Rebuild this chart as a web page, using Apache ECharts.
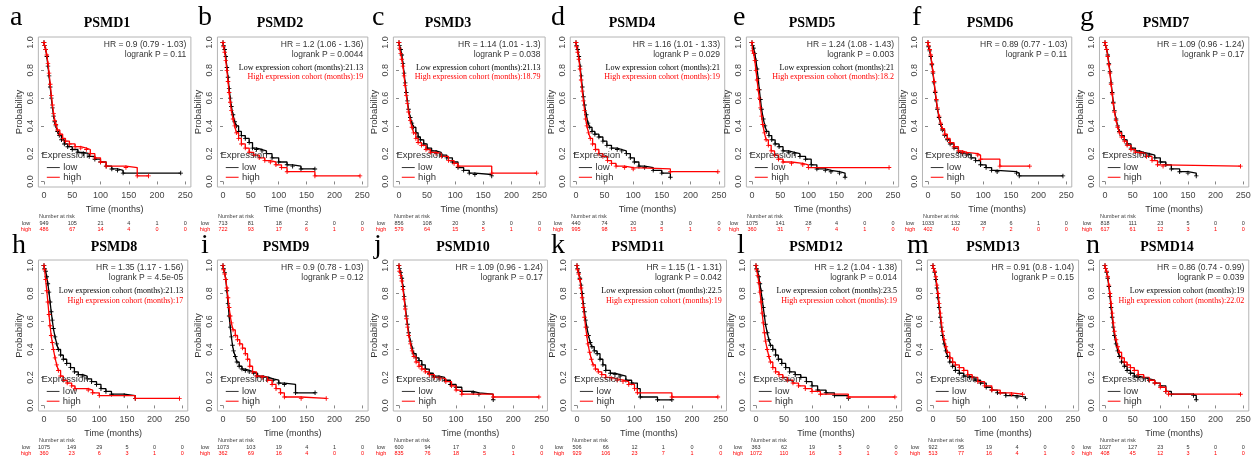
<!DOCTYPE html>
<html><head><meta charset="utf-8">
<script src="https://cdn.jsdelivr.net/npm/echarts@6/dist/echarts.min.js"></script>
<style>html,body{margin:0;padding:0;background:#fff}#c{width:1257px;height:457px}</style>
</head><body><div id="c"></div>
<script>
// ---------------- DATA ----------------
const genes = ['PSMD1','PSMD2','PSMD3','PSMD4','PSMD5','PSMD6','PSMD7','PSMD8','PSMD9','PSMD10','PSMD11','PSMD12','PSMD13','PSMD14'];
const letters = ['a','b','c','d','e','f','g','h','i','j','k','l','m','n'];
const hrLabels = ['HR = 0.9 (0.79 - 1.03)','HR = 1.2 (1.06 - 1.36)','HR = 1.14 (1.01 - 1.3)','HR = 1.16 (1.01 - 1.33)','HR = 1.24 (1.08 - 1.43)','HR = 0.89 (0.77 - 1.03)','HR = 1.09 (0.96 - 1.24)','HR = 1.35 (1.17 - 1.56)','HR = 0.9 (0.78 - 1.03)','HR = 1.09 (0.96 - 1.24)','HR = 1.15 (1 - 1.31)','HR = 1.2 (1.04 - 1.38)','HR = 0.91 (0.8 - 1.04)','HR = 0.86 (0.74 - 0.99)'];
const logrankP = ['0.11','0.0044','0.038','0.029','0.003','0.11','0.17','4.5e-05','0.12','0.17','0.042','0.014','0.15','0.039'];
const lowCohortMonths = [null,'21.13','21.13','21','21',null,null,'21.13',null,null,'22.5','23.5',null,'19'];
const highCohortMonths = [null,'19','18.79','19','18.2',null,null,'17',null,null,'19','19',null,'22.02'];
const xTickValues = [0,50,100,150,200,250];
const yTickValues = [0,0.2,0.4,0.6,0.8,1.0];
const riskTimes = [0,50,100,150,200,250];
const riskLow = [[949,105,21,4,1,0],[713,81,18,2,0,0],[856,108,20,3,0,0],[440,74,20,3,0,0],[1075,141,28,4,0,0],[1033,132,28,6,1,0],[818,111,23,5,0,0],[1075,149,29,5,0,0],[1073,103,19,4,1,0],[600,94,17,3,0,0],[506,66,12,1,0,0],[363,62,19,5,0,0],[922,95,19,4,0,0],[1027,127,23,5,0,0]];
const riskHigh = [[486,67,14,4,0,0],[722,93,17,6,1,0],[579,64,15,5,1,0],[995,98,15,5,1,0],[360,31,7,4,1,0],[402,40,7,2,0,0],[617,61,12,3,1,0],[360,23,6,3,1,0],[362,69,16,4,0,0],[835,76,18,5,1,0],[929,106,23,7,1,0],[1072,110,16,3,1,0],[513,77,16,4,1,0],[408,45,12,3,1,0]];

const low_PSMD1 = [[0,1],[1,0.98],[3,0.95],[5,0.9],[7,0.83],[9,0.76],[11,0.68],[13,0.6],[15,0.53],[17,0.47],[19,0.43],[21,0.4],[24,0.36],[27,0.33],[31,0.3],[36,0.27],[42,0.25],[50,0.23],[60,0.21],[70,0.2],[80,0.18],[90,0.16],[100,0.14],[110,0.11],[120,0.09],[130,0.08],[140,0.06],[242,0.06]];
const high_PSMD1 = [[0,1],[1,0.98],[3,0.95],[5,0.91],[7,0.85],[9,0.78],[11,0.7],[13,0.62],[15,0.55],[17,0.49],[19,0.44],[21,0.41],[24,0.37],[28,0.34],[33,0.31],[38,0.29],[45,0.27],[55,0.25],[65,0.24],[75,0.23],[82,0.2],[90,0.17],[100,0.14],[110,0.11],[145,0.1],[165,0.04],[185,0.04]];
const low_PSMD2 = [[0,1],[1,0.98],[3,0.95],[5,0.9],[7,0.82],[9,0.75],[11,0.67],[13,0.6],[15,0.54],[18,0.48],[21,0.43],[24,0.4],[28,0.36],[33,0.33],[40,0.31],[47,0.28],[53,0.24],[60,0.23],[70,0.22],[78,0.2],[88,0.17],[100,0.14],[115,0.12],[125,0.11],[140,0.09],[165,0.09]];
const high_PSMD2 = [[0,1],[1,0.97],[3,0.93],[5,0.87],[7,0.8],[9,0.72],[11,0.64],[13,0.57],[15,0.51],[18,0.45],[21,0.4],[24,0.35],[28,0.31],[33,0.27],[40,0.24],[47,0.21],[55,0.19],[65,0.17],[75,0.15],[85,0.14],[95,0.12],[105,0.1],[115,0.07],[165,0.04],[246,0.04]];
const low_PSMD3 = [[0,1],[1,0.98],[3,0.95],[5,0.91],[7,0.85],[9,0.78],[11,0.71],[13,0.64],[15,0.58],[17,0.52],[20,0.46],[23,0.42],[26,0.39],[30,0.35],[34,0.32],[38,0.3],[44,0.27],[50,0.24],[58,0.22],[66,0.21],[75,0.19],[85,0.17],[95,0.14],[105,0.1],[115,0.08],[125,0.06],[135,0.05],[165,0.04]];
const high_PSMD3 = [[0,1],[1,0.96],[3,0.92],[5,0.88],[7,0.83],[9,0.76],[11,0.69],[13,0.62],[15,0.56],[17,0.5],[20,0.44],[23,0.39],[26,0.35],[30,0.31],[34,0.28],[40,0.26],[48,0.23],[56,0.21],[66,0.2],[76,0.18],[88,0.15],[98,0.13],[105,0.11],[165,0.06],[245,0.06]];
const low_PSMD4 = [[0,1],[1,0.98],[3,0.95],[5,0.9],[7,0.83],[9,0.76],[11,0.68],[13,0.61],[15,0.55],[18,0.48],[21,0.42],[24,0.39],[28,0.36],[33,0.34],[40,0.32],[47,0.29],[54,0.26],[62,0.24],[72,0.23],[80,0.22],[88,0.2],[95,0.17],[102,0.14],[110,0.11],[120,0.1],[135,0.08],[150,0.06],[165,0.03]];
const high_PSMD4 = [[0,1],[1,0.97],[3,0.93],[5,0.88],[7,0.81],[9,0.73],[11,0.65],[13,0.58],[15,0.51],[17,0.45],[19,0.4],[22,0.35],[25,0.31],[29,0.27],[34,0.23],[40,0.2],[47,0.18],[55,0.15],[62,0.13],[70,0.11],[85,0.1],[100,0.09],[165,0.07],[248,0.07]];
const low_PSMD5 = [[0,1],[1,0.98],[3,0.96],[5,0.92],[7,0.87],[9,0.81],[11,0.74],[13,0.66],[15,0.59],[17,0.52],[20,0.45],[23,0.4],[26,0.36],[30,0.33],[35,0.3],[41,0.27],[48,0.25],[55,0.22],[65,0.21],[75,0.2],[85,0.18],[95,0.16],[105,0.12],[115,0.09],[130,0.08],[140,0.07],[155,0.06],[165,0.03]];
const high_PSMD5 = [[0,1],[1,0.94],[3,0.92],[5,0.87],[7,0.8],[9,0.73],[11,0.66],[13,0.6],[15,0.53],[17,0.47],[19,0.41],[22,0.35],[25,0.3],[29,0.26],[34,0.22],[40,0.19],[47,0.16],[55,0.14],[70,0.13],[90,0.12],[100,0.1],[243,0.1]];
const low_PSMD6 = [[0,1],[1,0.97],[3,0.94],[5,0.9],[7,0.84],[9,0.78],[11,0.71],[13,0.64],[15,0.58],[17,0.52],[20,0.46],[23,0.41],[26,0.37],[30,0.33],[35,0.3],[40,0.27],[47,0.24],[55,0.21],[62,0.2],[70,0.19],[78,0.17],[86,0.15],[95,0.12],[105,0.1],[115,0.08],[125,0.07],[160,0.06],[165,0.04],[244,0.04]];
const high_PSMD6 = [[0,1],[1,0.98],[3,0.95],[5,0.91],[7,0.85],[9,0.79],[11,0.72],[13,0.65],[15,0.59],[17,0.53],[20,0.47],[23,0.42],[26,0.38],[30,0.34],[35,0.31],[40,0.28],[47,0.25],[55,0.22],[62,0.21],[70,0.2],[90,0.19],[95,0.16],[130,0.11],[184,0.11]];
const low_PSMD7 = [[0,1],[1,0.98],[3,0.95],[5,0.91],[7,0.85],[9,0.79],[11,0.71],[13,0.64],[15,0.57],[17,0.51],[20,0.45],[23,0.4],[26,0.36],[30,0.33],[35,0.3],[40,0.27],[47,0.24],[55,0.22],[62,0.21],[70,0.2],[80,0.19],[90,0.17],[100,0.14],[110,0.12],[120,0.09],[135,0.07],[150,0.06],[165,0.04]];
const high_PSMD7 = [[0,1],[1,0.98],[3,0.95],[5,0.9],[7,0.84],[9,0.78],[11,0.7],[13,0.63],[15,0.56],[17,0.5],[20,0.44],[23,0.39],[26,0.35],[30,0.32],[35,0.29],[40,0.26],[47,0.23],[55,0.21],[65,0.2],[75,0.18],[85,0.15],[95,0.12],[105,0.11],[245,0.11]];
const low_PSMD8 = [[0,1],[1,0.98],[3,0.96],[5,0.92],[7,0.87],[9,0.81],[11,0.74],[13,0.67],[15,0.61],[17,0.55],[20,0.49],[23,0.44],[26,0.4],[30,0.36],[35,0.33],[41,0.3],[48,0.27],[55,0.24],[62,0.22],[70,0.21],[78,0.19],[86,0.17],[95,0.15],[103,0.12],[112,0.1],[122,0.08],[145,0.07],[165,0.05]];
const high_PSMD8 = [[0,1],[1,0.97],[3,0.9],[5,0.82],[7,0.74],[9,0.65],[11,0.57],[13,0.5],[15,0.45],[17,0.4],[20,0.34],[23,0.29],[26,0.25],[30,0.21],[35,0.18],[42,0.16],[50,0.14],[56,0.12],[80,0.11],[88,0.09],[100,0.07],[165,0.05],[245,0.05]];
const low_PSMD9 = [[0,1],[1,0.98],[3,0.95],[5,0.9],[7,0.82],[9,0.73],[11,0.64],[13,0.56],[15,0.49],[17,0.43],[19,0.39],[22,0.35],[25,0.31],[29,0.28],[34,0.26],[40,0.25],[47,0.24],[55,0.23],[62,0.21],[72,0.2],[82,0.19],[90,0.18],[100,0.16],[110,0.15],[130,0.09],[165,0.09]];
const high_PSMD9 = [[0,1],[1,0.97],[3,0.94],[5,0.9],[7,0.84],[9,0.77],[11,0.7],[13,0.64],[15,0.59],[18,0.54],[22,0.5],[26,0.47],[30,0.44],[35,0.41],[40,0.37],[44,0.33],[48,0.28],[53,0.24],[60,0.21],[70,0.2],[80,0.18],[88,0.15],[95,0.12],[103,0.09],[110,0.06],[140,0.05],[185,0.05]];
const low_PSMD10 = [[0,1],[1,0.98],[3,0.95],[5,0.91],[7,0.85],[9,0.78],[11,0.71],[13,0.64],[15,0.58],[17,0.52],[20,0.46],[23,0.41],[26,0.37],[30,0.34],[35,0.32],[40,0.29],[46,0.26],[53,0.23],[60,0.21],[70,0.2],[80,0.18],[90,0.15],[100,0.13],[110,0.1],[130,0.09],[140,0.08],[165,0.04]];
const high_PSMD10 = [[0,1],[1,0.96],[3,0.93],[5,0.89],[7,0.83],[9,0.76],[11,0.69],[13,0.62],[15,0.56],[17,0.5],[20,0.44],[23,0.39],[26,0.35],[30,0.31],[35,0.28],[40,0.26],[46,0.24],[53,0.22],[62,0.2],[72,0.19],[82,0.17],[92,0.14],[100,0.11],[110,0.08],[165,0.06],[245,0.06]];
const low_PSMD11 = [[0,1],[1,0.98],[3,0.95],[5,0.91],[7,0.86],[9,0.8],[11,0.73],[13,0.67],[15,0.61],[17,0.56],[20,0.5],[23,0.45],[26,0.42],[30,0.39],[35,0.37],[40,0.33],[45,0.29],[50,0.25],[58,0.23],[66,0.22],[75,0.21],[85,0.18],[95,0.16],[105,0.12],[110,0.06],[140,0.04],[165,0.04]];
const high_PSMD11 = [[0,1],[1,0.97],[3,0.94],[5,0.9],[7,0.84],[9,0.77],[11,0.7],[13,0.63],[15,0.56],[17,0.5],[19,0.44],[22,0.38],[25,0.33],[28,0.29],[32,0.26],[37,0.24],[43,0.22],[50,0.2],[60,0.19],[70,0.18],[80,0.17],[90,0.15],[100,0.12],[105,0.09],[165,0.06],[245,0.06]];
const low_PSMD12 = [[0,1],[1,0.98],[3,0.96],[5,0.92],[7,0.87],[9,0.82],[11,0.76],[13,0.7],[15,0.64],[17,0.58],[20,0.52],[23,0.47],[26,0.43],[30,0.4],[35,0.36],[40,0.33],[46,0.3],[53,0.27],[60,0.24],[70,0.22],[80,0.2],[90,0.17],[100,0.14],[110,0.11],[125,0.09],[140,0.07],[165,0.05]];
const high_PSMD12 = [[0,1],[1,0.97],[3,0.93],[5,0.88],[7,0.81],[9,0.74],[11,0.66],[13,0.59],[15,0.52],[17,0.46],[20,0.4],[23,0.35],[26,0.31],[30,0.27],[35,0.24],[41,0.22],[48,0.2],[56,0.18],[66,0.16],[76,0.14],[88,0.12],[100,0.1],[115,0.08],[165,0.06],[248,0.06]];
const low_PSMD13 = [[0,1],[1,0.98],[3,0.95],[5,0.9],[7,0.84],[9,0.77],[11,0.7],[13,0.63],[15,0.56],[17,0.5],[20,0.44],[23,0.39],[26,0.35],[30,0.31],[35,0.28],[40,0.25],[47,0.23],[55,0.21],[65,0.2],[75,0.18],[85,0.16],[95,0.13],[105,0.11],[115,0.09],[130,0.07],[150,0.06],[165,0.05]];
const high_PSMD13 = [[0,1],[1,0.98],[3,0.96],[5,0.92],[7,0.86],[9,0.8],[11,0.73],[13,0.66],[15,0.59],[17,0.53],[20,0.47],[23,0.42],[26,0.38],[30,0.34],[35,0.31],[40,0.29],[47,0.27],[55,0.25],[62,0.22],[70,0.2],[80,0.17],[92,0.14],[105,0.11],[120,0.09],[140,0.08],[160,0.08]];
const low_PSMD14 = [[0,1],[1,0.98],[3,0.95],[5,0.91],[7,0.85],[9,0.78],[11,0.7],[13,0.63],[15,0.56],[17,0.5],[20,0.44],[23,0.39],[26,0.35],[30,0.31],[35,0.28],[40,0.25],[46,0.23],[53,0.21],[60,0.2],[70,0.19],[80,0.18],[90,0.16],[100,0.14],[110,0.1],[120,0.08],[160,0.07],[165,0.04]];
const high_PSMD14 = [[0,1],[1,0.98],[3,0.96],[5,0.92],[7,0.86],[9,0.8],[11,0.73],[13,0.66],[15,0.59],[17,0.53],[20,0.47],[23,0.42],[26,0.38],[30,0.34],[35,0.31],[40,0.29],[46,0.27],[53,0.25],[60,0.22],[70,0.2],[80,0.18],[90,0.16],[100,0.13],[110,0.1],[115,0.08],[245,0.08]];

const lowCurves = [low_PSMD1,low_PSMD2,low_PSMD3,low_PSMD4,low_PSMD5,low_PSMD6,low_PSMD7,low_PSMD8,low_PSMD9,low_PSMD10,low_PSMD11,low_PSMD12,low_PSMD13,low_PSMD14];
const highCurves = [high_PSMD1,high_PSMD2,high_PSMD3,high_PSMD4,high_PSMD5,high_PSMD6,high_PSMD7,high_PSMD8,high_PSMD9,high_PSMD10,high_PSMD11,high_PSMD12,high_PSMD13,high_PSMD14];

// ---------------- LAYOUT ----------------
const X0 = [44,223,399,576,752,928,1105, 44,223,399,577,756,933,1105];
const SCALE = [0.565,0.557,0.562,0.572,0.564,0.553,0.553, 0.553,0.558,0.571,0.575,0.56,0.56,0.553];
const TITLE_DX = [63,57,49,56,60,62,61, 70,63,64,61,60,60,62];
const LETTER_X = [10,198,372,551,733,912,1080, 12,201,374,551,737,907,1086];
const SANS = '"Liberation Sans", Arial, sans-serif';
const SERIF = '"Liberation Serif", "Times New Roman", serif';
const RED = '#ff0000';
const CROSS = 'path://M2,0H3V2H5V3H3V5H2V3H0V2H2Z';

const chart = echarts.init(document.getElementById('c'));
const grids = [], xAxes = [], yAxes = [], series = [];
for (let i = 0; i < 14; i++) {
  const row = i < 7 ? 0 : 1;
  const s = SCALE[i];
  grids.push({left: X0[i] - 10 * s, top: row ? 260 : 37, width: 270 * s, height: row ? 151 : 150,
    show: true, borderColor: '#b4b4b4', borderWidth: 1, backgroundColor: 'transparent'});
  xAxes.push({gridIndex: i, type: 'value', min: -10, max: 260,
    name: 'Time (months)', nameLocation: 'middle', nameGap: 18,
    nameTextStyle: {fontSize: 9, color: '#333', fontFamily: SANS},
    axisLine: {show: false},
    axisTick: {show: true, customValues: xTickValues, length: 3, lineStyle: {color: '#888'}},
    axisLabel: {customValues: xTickValues, fontSize: 9, color: '#444', margin: 4, fontFamily: SANS},
    splitLine: {show: false}});
  yAxes.push({gridIndex: i, type: 'value', min: -0.04, max: 1.04,
    name: 'Probability', nameLocation: 'middle', nameGap: 14, nameRotate: 90,
    nameTextStyle: {fontSize: 9.5, color: '#333', fontFamily: SANS},
    axisLine: {show: false},
    axisTick: {show: true, customValues: yTickValues, length: 3, lineStyle: {color: '#888'}},
    axisLabel: {customValues: yTickValues, rotate: 90, fontSize: 9, color: '#444', margin: 3, fontFamily: SANS,
      formatter: v => v.toFixed(1)},
    splitLine: {show: false}});
  series.push({name: 'low', type: 'line', xAxisIndex: i, yAxisIndex: i, data: lowCurves[i], step: 'end',
    lineStyle: {color: '#000', width: 1.3}, itemStyle: {color: '#000'},
    symbol: CROSS, symbolSize: 4.5, showSymbol: true, showAllSymbol: true, silent: true, z: 2});
  series.push({name: 'high', type: 'line', xAxisIndex: i, yAxisIndex: i, data: highCurves[i], step: 'end',
    lineStyle: {color: RED, width: 1.3}, itemStyle: {color: RED},
    symbol: CROSS, symbolSize: 4.5, showSymbol: true, showAllSymbol: true, silent: true, z: 3});
}
chart.setOption({animation: false, backgroundColor: '#fff', grid: grids, xAxis: xAxes, yAxis: yAxes, series: series});

const gfx = [];
function txt(x, y, text, font, fill, align, valign) {
  gfx.push({type: 'text', x: x, y: y, z: 100, silent: true,
    style: {text: text, font: font, fill: fill, textAlign: align || 'left', textVerticalAlign: valign || 'middle'}});
}
for (let i = 0; i < 14; i++) {
  const row = i < 7 ? 0 : 1;
  const px = (t, p) => chart.convertToPixel({gridIndex: i}, [t, p]);
  const o = px(0, 0);
  txt(LETTER_X[i], row ? 246 : 18, letters[i], '28px ' + SERIF, '#000', 'left', 'middle');
  txt(X0[i] + TITLE_DX[i], row ? 247 : 23, genes[i], 'bold 14px ' + SERIF, '#000', 'center', 'middle');
  const rx = px(250, 0)[0] + 1;
  txt(rx, px(0, 0.985)[1], hrLabels[i], '8.5px ' + SANS, '#333', 'right');
  txt(rx, px(0, 0.915)[1], 'logrank P = ' + logrankP[i], '8.5px ' + SANS, '#333', 'right');
  if (lowCohortMonths[i]) {
    txt(rx, px(0, 0.82)[1], 'Low expression cohort (months):' + lowCohortMonths[i], '8px ' + SERIF, '#000', 'right');
    txt(rx, px(0, 0.75)[1], 'High expression cohort (months):' + highCohortMonths[i], '8px ' + SERIF, RED, 'right');
  }
  const ex = px(-4.6, 0.185);
  txt(ex[0], ex[1], 'Expression', '9.5px ' + SANS, '#333', 'left');
  const l1 = px(5, 0.1), l2 = px(28, 0.1), h1 = px(5, 0.03), h2 = px(28, 0.03);
  gfx.push({type: 'line', z: 100, silent: true, shape: {x1: l1[0], y1: l1[1], x2: l2[0], y2: l2[1]}, style: {stroke: '#333', lineWidth: 1}});
  gfx.push({type: 'line', z: 100, silent: true, shape: {x1: h1[0], y1: h1[1], x2: h2[0], y2: h2[1]}, style: {stroke: RED, lineWidth: 1}});
  txt(px(34, 0)[0], l1[1], 'low', '9.5px ' + SANS, '#333', 'left');
  txt(px(34, 0)[0], h1[1], 'high', '9.5px ' + SANS, '#333', 'left');
  txt(o[0] - 5, o[1] + 35, 'Number at risk', '5.5px ' + SANS, '#444', 'left');
  txt(o[0] - 18, o[1] + 42, 'low', '5.5px ' + SANS, '#333', 'center');
  txt(o[0] - 18, o[1] + 48, 'high', '5.5px ' + SANS, RED, 'center');
  for (let k = 0; k < riskTimes.length; k++) {
    const xx = px(riskTimes[k], 0)[0];
    txt(xx, o[1] + 42, String(riskLow[i][k]), '5.5px ' + SANS, '#333', 'center');
    txt(xx, o[1] + 48, String(riskHigh[i][k]), '5.5px ' + SANS, RED, 'center');
  }
}
chart.setOption({graphic: {elements: gfx}});
</script></body></html>
